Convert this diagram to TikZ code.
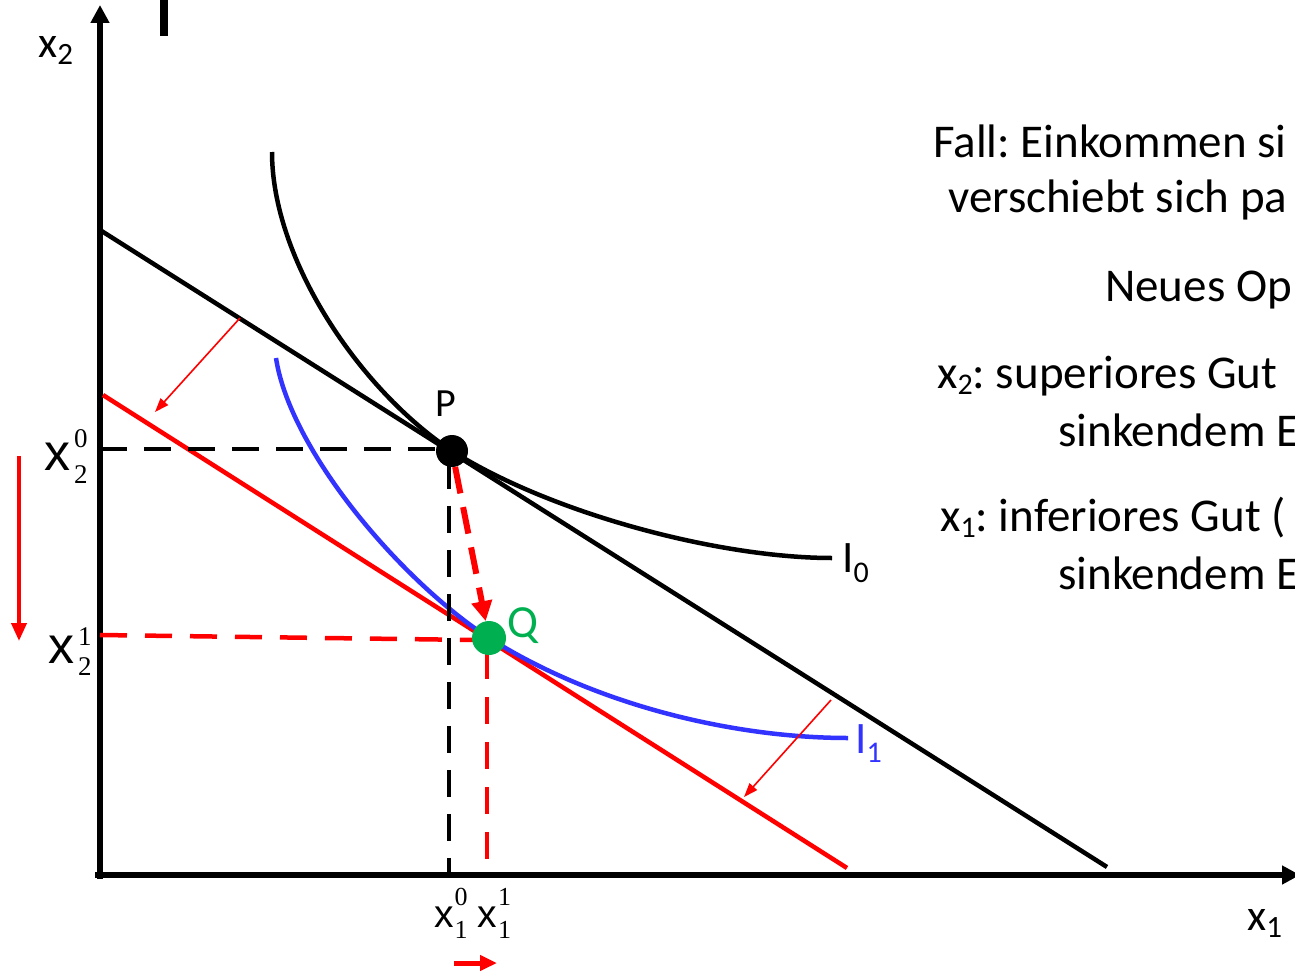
\documentclass[tikz,border=0pt]{standalone}
\usepackage{fontspec}
\setmainfont{Carlito}
\newfontfamily\arialf{Liberation Sans}
\newfontfamily\timesf{Liberation Serif}
\usetikzlibrary{arrows.meta}
\definecolor{myred}{RGB}{255,0,0}
\definecolor{myblue}{RGB}{51,51,255}
\definecolor{mygreen}{RGB}{0,176,80}
\newcommand{\fs}[1]{\fontsize{#1}{#1}\selectfont}
\newcommand{\lsub}[3]{\raisebox{-#2pt}{\fs{#1}#3}}
\newcommand{\xlabel}[7]{{\arialf\fs{#1}x}\kern#7pt\rlap{\raisebox{#5pt}{\timesf\fs{#2}#3}}\raisebox{-#6pt}{\timesf\fs{#2}#4}}
\frenchspacing
\begin{document}
\begin{tikzpicture}[x=1pt,y=-1pt,
  axisline/.style={line width=5.5pt,-{Triangle[length=18pt,width=18pt]}},
  bline/.style={line width=4.5pt,black},
  rline/.style={line width=4.5pt,myred},
  bcurve/.style={line width=4.5pt,myblue},
  bdashed/.style={line width=4.5pt,black,dash pattern=on 27pt off 17pt},
  rdashed/.style={line width=4.5pt,myred,dash pattern=on 27pt off 18pt},
  thinarrow/.style={line width=1.6pt,myred,-{Triangle[length=14pt,width=10pt]}},
  txt/.style={inner sep=0pt,anchor=base west,font=\fs{47}},
  lab/.style={inner sep=0pt,anchor=base west}]
\useasboundingbox (0,0) rectangle (1295,974);

% axes
\coordinate (yb) at (100,879);
\coordinate (yt) at (100,5);
\coordinate (xl) at (95,875);
\coordinate (xr) at (1300,875);
\draw[axisline] (yb) -- (yt);
\draw[axisline] (xl) -- (xr);
\fill (160,0) rectangle (168,36);

% budget lines
\coordinate (b0) at (100,230);
\coordinate (b1) at (1107,867);
\coordinate (r0) at (103,395);
\coordinate (r1) at (847,868);
\coordinate (Pc) at (452,451);
\coordinate (Qc) at (489,638);
\draw[bline] (b0) -- (b1);
\draw[rline] (r0) -- (r1);

% indifference curves
\coordinate (i0s) at (272,152);
\coordinate (i0e) at (832,558);
\draw[bline] (i0s) .. controls (272,260) and (360,390) .. (Pc) .. controls (552,514) and (720,558) .. (i0e);
\coordinate (i1s) at (276,358);
\coordinate (i1e) at (848,738);
\draw[bcurve] (i1s) .. controls (290,450) and (400,580) .. (Qc) .. controls (600,708) and (740,738) .. (i1e);

% dashed guides
\coordinate (h0) at (100,449);
\coordinate (h0e) at (440,449);
\draw[bdashed] (h0) -- (h0e);
\coordinate (v0) at (449,462);
\coordinate (v0e) at (449,875);
\draw[bdashed] (v0) -- (v0e);
\coordinate (h1) at (100,635);
\coordinate (h1e) at (476,640);
\draw[rdashed] (h1) -- (h1e);
\coordinate (v1) at (487,652);
\coordinate (v1e) at (487,875);
\draw[rdashed] (v1) -- (v1e);

% points
\node[circle,fill=black,minimum size=32pt,inner sep=0pt] (P) at (Pc) {};
\node[circle,fill=mygreen,minimum size=34pt,inner sep=0pt] (Q) at (Qc) {};
\draw[line width=6pt,myred,dash pattern=on 27pt off 14pt,-{Triangle[length=20pt,width=20pt]}] (P) -- (Q);

% shift arrows
\coordinate (a1s) at (240,318);
\coordinate (a1e) at (155,412);
\draw[thinarrow] (a1s) -- (a1e);
\coordinate (a2s) at (831,700);
\coordinate (a2e) at (744,797);
\draw[thinarrow] (a2s) -- (a2e);
\coordinate (a3s) at (19,456);
\coordinate (a3e) at (19,641);
\draw[line width=4pt,myred,-{Triangle[length=18pt,width=15pt]}] (a3s) -- (a3e);
\coordinate (a4s) at (454,963);
\coordinate (a4e) at (497,963);
\draw[line width=5pt,myred,-{Triangle[length=17pt,width=15pt]}] (a4s) -- (a4e);

% labels
\node[lab,font=\fs{44}] (lx2) at (38,58) {x\lsub{31}{7}{2}};
\node[lab,font=\fs{44}] (lx1) at (1247,930) {x\lsub{31}{7}{1}};
\node[lab,font=\fs{40}] (lP) at (435,416) {P};
\node[lab,font=\fs{46},text=mygreen] (lQ) at (507,637) {Q};
\node[lab,font=\fs{45}] (lI0) at (842,572) {I\lsub{30}{10}{0}};
\node[lab,font=\fs{45},text=myblue] (lI1) at (855,753) {I\lsub{30}{9}{1}};
\node[lab] (x20) at (44,470) {\xlabel{52}{27}{0}{2}{23}{13}{4}};
\node[lab] (x21) at (48,663) {\xlabel{52}{27}{1}{2}{18}{12}{4}};
\node[lab] (x10) at (434,927) {\xlabel{39}{26}{0}{1}{22}{11}{1}\kern10pt\xlabel{39}{26}{1}{1}{22}{11}{1}};

% text on the right
\node[txt] (t1) at (933,157) {Fall: Einkommen si};
\node[txt] (t2) at (948,212) {verschiebt sich pa};
\node[txt] (t3) at (1105,301) {Neues Op};
\node[txt] (t4) at (937,388) {x\lsub{30}{6}{2}: superiores Gut};
\node[txt] (t5) at (1058,446) {sinkendem E};
\node[txt] (t6) at (940,531) {x\lsub{30}{6}{1}: inferiores Gut (};
\node[txt] (t7) at (1058,589) {sinkendem E};
\end{tikzpicture}
\end{document}
